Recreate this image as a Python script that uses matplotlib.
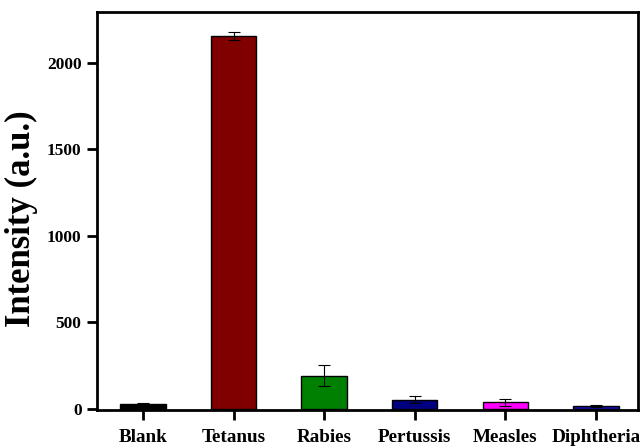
import matplotlib
matplotlib.use("Agg")
from matplotlib import pyplot as plt
import numpy as np

# sample names, mean intensity and standard deviation
samples = ["Blank", "Tetanus", "Rabies", "Pertussis", "Measles", "Diphtheria"]
intensity = [25, 2155, 190, 52, 35, 15]
errors = [8, 22, 62, 18, 18, 4]
colors = ["#000000", "#800000", "#008000", "#000080", "#ff00ff", "#1010b0"]

plt.rcParams["font.family"] = ["Liberation Serif", "DejaVu Serif"]
plt.rcParams["font.weight"] = "bold"

fig = plt.figure(figsize=(6.41, 4.48), dpi=100)
ax = fig.add_axes([0.151, 0.085, 0.845, 0.888])

x = np.arange(len(samples))
ax.bar(x, intensity, width=0.5, color=colors, edgecolor="black", linewidth=1.0,
       yerr=errors, error_kw=dict(ecolor="black", elinewidth=0.8, capsize=4, capthick=0.8))

ax.set_xlim(-0.51, 5.47)
ax.set_ylim(-8, 2295)
ax.set_yticks([0, 500, 1000, 1500, 2000])
ax.set_xticks(x)
ax.set_xticklabels(samples, fontsize=13.8, fontweight="bold")
for lab in ax.get_yticklabels():
    lab.set_fontsize(12.5)
    lab.set_fontweight("bold")

ax.tick_params(axis="both", direction="out", length=7, width=2, pad=4)
ax.tick_params(axis="x", pad=7)
for s in ax.spines.values():
    s.set_linewidth(2)

ax.set_ylabel("Intensity (a.u.)", fontsize=25, fontweight="bold")
ax.yaxis.set_label_coords(-0.108, 0.48)

fig.savefig("out.png", dpi=100)
